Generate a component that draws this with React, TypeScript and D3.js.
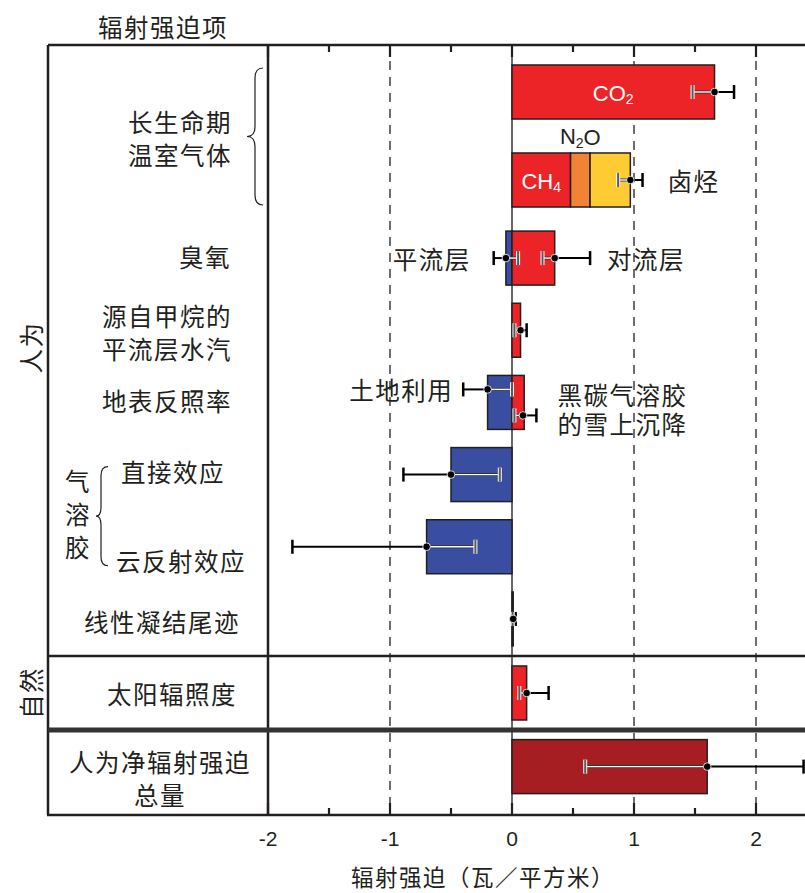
import * as d3 from "d3";

// row groups (the frame has separate panels, each gets its own band scale)
const ghgRows = ["co2", "llghg"];
const otherRows = ["ozone", "stratH2O", "albedo", "aerDirect", "aerCloud", "contrails"];
const naturalRows = ["solar"];
const totalRows = ["total"];

// bar segments, W m-2
const barRow = ["co2", "llghg", "llghg", "llghg", "ozone", "ozone", "stratH2O", "albedo", "albedo", "aerDirect", "aerCloud", "contrails", "solar", "total"];
const barFrom = [0, 0, 0.48, 0.64, 0, 0, 0, 0, 0, 0, 0, 0, 0, 0];
const barTo = [1.66, 0.48, 0.64, 0.97, -0.05, 0.35, 0.07, -0.2, 0.1, -0.5, -0.7, 0.01, 0.12, 1.6];
const barKind = ["warm", "warm", "n2o", "halo", "cool", "warm", "warm", "cool", "warm", "cool", "cool", "warm", "warm", "total"];

// uncertainty ranges
const errRow = ["co2", "llghg", "ozone", "ozone", "stratH2O", "albedo", "albedo", "aerDirect", "aerCloud", "contrails", "solar", "total"];
const errLane = [0, 0, 0, 0, 0, -1, 1, 0, 0, 0, 0, 0];
const errMid = [1.66, 0.97, -0.05, 0.35, 0.07, -0.2, 0.09, -0.5, -0.7, 0.01, 0.12, 1.6];
const errLow = [1.48, 0.87, -0.15, 0.25, 0.02, -0.4, 0.02, -0.89, -1.8, 0.005, 0.06, 0.6];
const errHigh = [1.82, 1.07, 0.05, 0.64, 0.12, 0.0, 0.2, -0.1, -0.3, 0.03, 0.3, 2.39];

const majorTicks = [-2, -1, 0, 1, 2];
const minorTicks = [-1.5, -0.5, 0.5, 1.5];
const dashedAt = [-1, 1, 2];

const colors: Record<string, string> = {
  warm: "#ec2327",
  n2o: "#f28234",
  halo: "#fecb33",
  cool: "#3a4ea1",
  total: "#a61e22",
};

const CJK = "'Noto Sans CJK SC', sans-serif";
const LAT = "'Liberation Sans', Arial, sans-serif";

const W = 805, H = 893;
const top = 45, bottom = 815, frameL = 48;
const sep1 = 656, sep2 = 730;

export default function App() {
  const x = d3.scaleLinear().domain([-2, 2.4]).range([268, 804.8]);

  const yGhg = d3.scaleBand<string>().domain(ghgRows).range([48, 224]).paddingInner(0.386).paddingOuter(0.193);
  const yOther = d3.scaleBand<string>().domain(otherRows).range([222, 655]).paddingInner(0.252).paddingOuter(0.126);
  const yNat = d3.scaleBand<string>().domain(naturalRows).range([sep1, sep2]).paddingInner(0).paddingOuter(0.185);
  const yTot = d3.scaleBand<string>().domain(totalRows).range([sep2, bottom]).paddingInner(0).paddingOuter(0.287).align(0.31);

  const band = (r: string) =>
    ghgRows.includes(r) ? yGhg : otherRows.includes(r) ? yOther : naturalRows.includes(r) ? yNat : yTot;
  const y0 = (r: string) => band(r)(r)!;
  const bw = (r: string) => band(r).bandwidth();
  const yc = (r: string) => y0(r) + bw(r) / 2;

  const laneGap = 13;
  const capH = 14;

  const brace = (xTip: number, xSpine: number, xEdge: number, ya: number, yb: number, r: number) => {
    const m = (ya + yb) / 2;
    return `M${xEdge},${ya} Q${xSpine},${ya} ${xSpine},${ya + r} L${xSpine},${m - r} Q${xSpine},${m} ${xTip},${m} ` +
      `Q${xSpine},${m} ${xSpine},${m + r} L${xSpine},${yb - r} Q${xSpine},${yb} ${xEdge},${yb}`;
  };

  const cjk = { fontFamily: CJK, fontSize: 24.5, fill: "#231f20", letterSpacing: 1.5 } as const;

  const llTop = y0("co2") + 3;
  const llBot = y0("llghg") + bw("llghg") - 2;
  const aeTop = yc("aerDirect") - 8;
  const aeBot = yc("aerCloud") + 19;

  return (
    <svg width={W} height={H} style={{ position: "absolute", left: 0, top: 0, background: "#fff" }}>
      {/* title of label column */}
      <text x={163} y={26} textAnchor="middle" dominantBaseline="central" {...cjk}>辐射强迫项</text>

      {/* dashed reference lines and zero line */}
      {dashedAt.map((v) => (
        <line key={"d" + v} x1={x(v)} x2={x(v)} y1={top} y2={bottom} stroke="#4d4d4f" strokeWidth={1.6} strokeDasharray="9 7" />
      ))}
      <line x1={x(0)} x2={x(0)} y1={top} y2={bottom} stroke="#58595b" strokeWidth={1.8} />

      {/* bars */}
      {barRow.map((r, i) => {
        const a = x(Math.min(barFrom[i], barTo[i]));
        const b = x(Math.max(barFrom[i], barTo[i]));
        return (
          <rect key={"b" + i} x={a} y={y0(r)} width={Math.max(b - a, 1)} height={bw(r)}
            fill={colors[barKind[i]]} stroke="#231f20" strokeWidth={1.5} />
        );
      })}

      {/* error bars: whisker inside the bar drawn light */}
      {errRow.map((r, i) => {
        const yy = yc(r) + errLane[i] * laneGap;
        const inner = errMid[i] >= 0 ? errLow[i] : errHigh[i];
        const outer = errMid[i] >= 0 ? errHigh[i] : errLow[i];
        return (
          <g key={"e" + i}>
            <line x1={x(errMid[i])} x2={x(outer)} y1={yy} y2={yy} stroke="#000" strokeWidth={2} />
            <line x1={x(outer)} x2={x(outer)} y1={yy - capH / 2} y2={yy + capH / 2} stroke="#000" strokeWidth={2.5} />
            <line x1={x(errMid[i])} x2={x(inner)} y1={yy} y2={yy} stroke="#333" strokeWidth={3} />
            <line x1={x(errMid[i])} x2={x(inner)} y1={yy} y2={yy} stroke="#f7f7f7" strokeWidth={1.4} />
            <line x1={x(inner)} x2={x(inner)} y1={yy - capH / 2} y2={yy + capH / 2} stroke="#f7f7f7" strokeWidth={4} />
            <line x1={x(inner)} x2={x(inner)} y1={yy - capH / 2} y2={yy + capH / 2} stroke="#58595b" strokeWidth={2} />
            <circle cx={x(errMid[i])} cy={yy} r={3.8} fill="#000" stroke="#fff" strokeWidth={0.8} />
          </g>
        );
      })}

      {/* in-bar and side labels */}
      <text x={(x(0) + x(barTo[0])) / 2} y={yc("co2") + 1} textAnchor="middle" dominantBaseline="central"
        fontFamily={LAT} fontSize={22} fill="#fff">CO<tspan fontSize={14} dy={6}>2</tspan></text>
      <text x={(x(0) + x(barTo[1])) / 2} y={yc("llghg") + 1} textAnchor="middle" dominantBaseline="central"
        fontFamily={LAT} fontSize={22} fill="#fff">CH<tspan fontSize={14} dy={6}>4</tspan></text>
      <text x={(x(barFrom[2]) + x(barTo[2])) / 2} y={y0("llghg") - 16} textAnchor="middle" dominantBaseline="central"
        fontFamily={LAT} fontSize={22} fill="#231f20">N<tspan fontSize={14} dy={6}>2</tspan><tspan dy={-6}>O</tspan></text>
      <text x={x(errHigh[1]) + 25} y={yc("llghg")} dominantBaseline="central" {...cjk}>卤烃</text>
      <text x={x(errLow[2]) - 23} y={yc("ozone")} textAnchor="end" dominantBaseline="central" {...cjk}>平流层</text>
      <text x={x(errHigh[3]) + 17} y={yc("ozone")} dominantBaseline="central" {...cjk}>对流层</text>
      <text x={x(errLow[5]) - 10} y={yc("albedo") - laneGap} textAnchor="end" dominantBaseline="central" {...cjk}>土地利用</text>
      <text x={x(errHigh[6]) + 21} y={yc("albedo") - 8} dominantBaseline="central" {...cjk}>黑碳气溶胶</text>
      <text x={x(errHigh[6]) + 21} y={yc("albedo") + 21} dominantBaseline="central" {...cjk}>的雪上沉降</text>

      {/* row labels */}
      <text x={232} y={(yc("co2") + yc("llghg")) / 2 - 15} textAnchor="end" dominantBaseline="central" {...cjk}>长生命期</text>
      <text x={232} y={(yc("co2") + yc("llghg")) / 2 + 18} textAnchor="end" dominantBaseline="central" {...cjk}>温室气体</text>
      <path d={brace(247, 255, 263, llTop, llBot, 10)} fill="none" stroke="#231f20" strokeWidth={1.2} />
      <text x={231} y={yc("ozone") - 2} textAnchor="end" dominantBaseline="central" {...cjk}>臭氧</text>
      <text x={232} y={yc("stratH2O") - 15} textAnchor="end" dominantBaseline="central" {...cjk}>源自甲烷的</text>
      <text x={232} y={yc("stratH2O") + 18} textAnchor="end" dominantBaseline="central" {...cjk}>平流层水汽</text>
      <text x={232} y={yc("albedo") - 2} textAnchor="end" dominantBaseline="central" {...cjk}>地表反照率</text>
      <text x={121} y={yc("aerDirect") - 3} dominantBaseline="central" {...cjk}>直接效应</text>
      <text x={116} y={yc("aerCloud") + 14} dominantBaseline="central" {...cjk}>云反射效应</text>
      <path d={brace(96, 101, 108, aeTop, aeBot, 9)} fill="none" stroke="#231f20" strokeWidth={1.2} />
      {["气", "溶", "胶"].map((c, i) => (
        <text key={c} x={78} y={(aeTop + aeBot) / 2 - 36 + i * 33} textAnchor="middle" dominantBaseline="central" {...cjk}>{c}</text>
      ))}
      <text x={162} y={yc("contrails") + 3} textAnchor="middle" dominantBaseline="central" {...cjk}>线性凝结尾迹</text>
      <text x={172} y={yc("solar")} textAnchor="middle" dominantBaseline="central" {...cjk}>太阳辐照度</text>
      <text x={160} y={yc("total") - 5} textAnchor="middle" dominantBaseline="central" {...cjk}>人为净辐射强迫</text>
      <text x={160} y={yc("total") + 28} textAnchor="middle" dominantBaseline="central" {...cjk}>总量</text>

      {/* group labels */}
      <text transform={`translate(30,${(top + sep1) / 2 - 3}) rotate(-90)`} textAnchor="middle" dominantBaseline="central" {...cjk}>人为</text>
      <text transform={`translate(30,${(sep1 + sep2) / 2}) rotate(-90)`} textAnchor="middle" dominantBaseline="central" {...cjk}>自然</text>

      {/* frame */}
      <line x1={frameL} x2={frameL} y1={top} y2={bottom} stroke="#231f20" strokeWidth={2.5} />
      <line x1={x(-2)} x2={x(-2)} y1={top} y2={bottom} stroke="#231f20" strokeWidth={2.5} />
      <line x1={frameL} x2={W} y1={top} y2={top} stroke="#231f20" strokeWidth={2.5} />
      <line x1={frameL} x2={W} y1={sep1} y2={sep1} stroke="#231f20" strokeWidth={2.5} />
      <line x1={frameL} x2={W} y1={sep2} y2={sep2} stroke="#333" strokeWidth={5} />
      <line x1={frameL - 1} x2={W} y1={bottom} y2={bottom} stroke="#231f20" strokeWidth={2.5} />

      {/* ticks top and bottom */}
      {majorTicks.map((v) => (
        <g key={"M" + v}>
          <line x1={x(v)} x2={x(v)} y1={top} y2={top + 12} stroke="#231f20" strokeWidth={2.2} />
          <line x1={x(v)} x2={x(v)} y1={bottom} y2={bottom - 12} stroke="#231f20" strokeWidth={2.2} />
          <text x={x(v)} y={bottom + 23} textAnchor="middle" dominantBaseline="central" fontFamily={LAT} fontSize={21} fill="#231f20">
            {v < 0 ? "-" + Math.abs(v) : v}
          </text>
        </g>
      ))}
      {minorTicks.map((v) => (
        <g key={"m" + v}>
          <line x1={x(v)} x2={x(v)} y1={top} y2={top + 7} stroke="#231f20" strokeWidth={2.2} />
          <line x1={x(v)} x2={x(v)} y1={bottom} y2={bottom - 7} stroke="#231f20" strokeWidth={2.2} />
        </g>
      ))}

      <text x={483} y={876} textAnchor="middle" dominantBaseline="central" fontFamily={CJK} fontSize={22.5} fill="#231f20" letterSpacing={1.5}>
        辐射强迫（瓦／平方米）
      </text>
    </svg>
  );
}
